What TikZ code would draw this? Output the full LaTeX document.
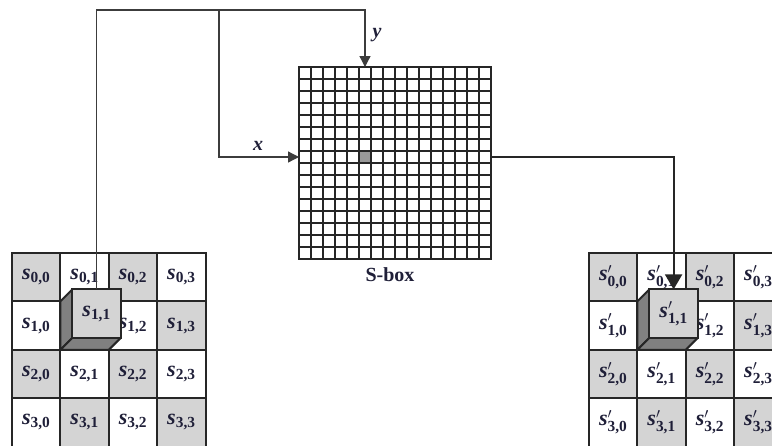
\documentclass[tikz,border=0pt]{standalone}
\usepackage{amsmath}
\usepackage{fontspec}
\setmainfont{Liberation Serif}
\usetikzlibrary{arrows.meta}
\definecolor{ink}{rgb}{0.12,0.12,0.22}
\definecolor{cellgray}{gray}{0.83}
\definecolor{facegray}{gray}{0.5}
\definecolor{hlgray}{gray}{0.6}
\definecolor{linegray}{gray}{0.15}
\newcommand\sval[1]{$\textbf{\textit{s}}_{\textbf{#1}}$}
\newcommand\svalp[1]{$\textbf{\textit{s}}^{\prime}_{\textbf{#1}}$}
\begin{document}
\begin{tikzpicture}[x=1pt,y=-1pt,
  cellbox/.style={draw=linegray, line width=2pt, minimum size=48.4pt, inner sep=0pt, outer sep=0pt,
    anchor=north west, text=ink, font=\fontsize{22}{24}\selectfont},
  facebox/.style={fill=facegray, draw=linegray, line width=2pt, line join=round},
  conn/.style={draw=linegray!90, line width=1.3pt},
  outconn/.style={draw=linegray, line width=2pt},
  sbline/.style={draw=linegray, line width=1.6pt},
  lab/.style={text=ink, font=\fontsize{20}{24}\selectfont}]
\useasboundingbox (0,0) rectangle (772,445);
% state grids
\foreach \i in {0,...,3}{\foreach \j in {0,...,3}{
  \pgfmathtruncatemacro{\k}{mod(\i+\j,2)}
  \ifnum\k=0 \def\fc{cellgray}\else\def\fc{white}\fi
  \pgfmathtruncatemacro{\hid}{(\i==1)&&(\j==1)}
  \ifnum\hid=1
    \node[cellbox, fill=\fc] (a\i\j) at ({12+48.4*\j},{253+48.4*\i}) {};
    \node[cellbox, fill=\fc] (b\i\j) at ({589+48.4*\j},{253+48.4*\i}) {};
  \else
    \node[cellbox, fill=\fc] (a\i\j) at ({12+48.4*\j},{253+48.4*\i}) {\sval{\i,\j}};
    \node[cellbox, fill=\fc] (b\i\j) at ({589+48.4*\j},{253+48.4*\i}) {\svalp{\i,\j}};
  \fi
}}
% raised cubes
\foreach \g in {a,b}{
  \draw[facebox] (\g11.north west) -- ([shift={(12,-12)}]\g11.north west)
    -- ([shift={(12,-12)}]\g11.south west) -- (\g11.south west) -- cycle;
  \draw[facebox] (\g11.south west) -- ([shift={(12,-12)}]\g11.south west)
    -- ([shift={(12,-12)}]\g11.south east) -- (\g11.south east) -- cycle;
}
\node[cellbox, fill=cellgray, anchor=center] (ca) at ([shift={(12,-12)}]a11.center) {\sval{1,1}};
\node[cellbox, fill=cellgray, anchor=center] (cb) at ([shift={(12,-12)}]b11.center) {\svalp{1,1}};
% S-box
\node[draw=linegray, line width=2pt, minimum size=192pt, inner sep=0pt, outer sep=0pt, anchor=north west] (sb) at (299,67) {};
\fill[hlgray] ({299+5*12},{67+7*12}) rectangle ({299+6*12},{67+8*12});
\foreach \k in {1,...,15}{
  \draw[sbline] ({299+12*\k},67) -- ({299+12*\k},259);
  \draw[sbline] (299,{67+12*\k}) -- (491,{67+12*\k});
}
\draw[draw=linegray, line width=2pt] (sb.north west) rectangle (sb.south east);
\node[text=ink, font=\fontsize{20}{24}\selectfont\bfseries] (sblabel) at (390,275) {S-box};
% connectors
\coordinate (topy) at (0,10);
\coordinate (br) at (219,10);
\coordinate (yin) at ({299+5.5*12},67);
\coordinate (xin) at (299,{67+7.5*12});
\coordinate (out) at (491,157);
\draw[conn, -{Triangle[length=11pt,width=11pt]}] (ca.north) -- (ca.north |- topy) -| (yin);
\draw[conn, -{Triangle[length=11pt,width=11pt]}] (br) |- (xin);
\draw[outconn, -{Triangle[length=15pt,width=17pt]}] (out) -| (cb.north);
\node[lab] (ly) at (377,35) {\textbf{\textit{y}}};
\node[lab] (lx) at (258,146) {\textbf{\textit{x}}};
\end{tikzpicture}
\end{document}
